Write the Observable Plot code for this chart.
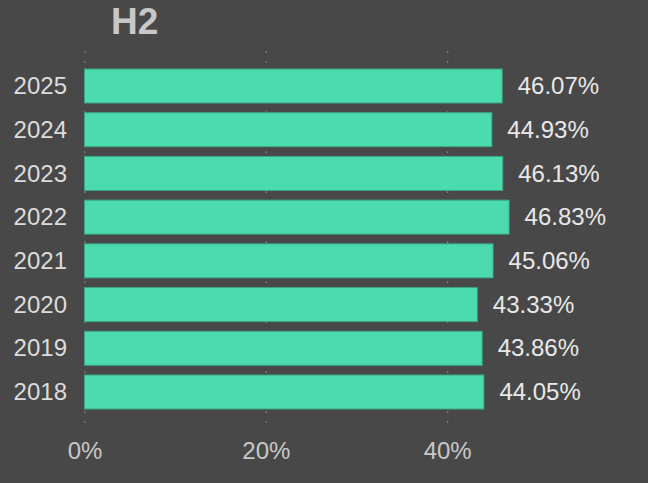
<!DOCTYPE html>
<html>
<head>
<meta charset="utf-8">
<script src="https://cdn.jsdelivr.net/npm/d3@7"></script>
<script src="https://cdn.jsdelivr.net/npm/@observablehq/plot@0.6"></script>
<style>
  html, body { margin: 0; padding: 0; background: #484848; }
  #wrap { width: 648px; height: 483px; background: #484848; position: relative; overflow: hidden; }
  #title { height: 45px; margin: 0; padding-left: 111px; font: bold 37px "Liberation Sans", Arial, sans-serif; color: #c8c8c8; line-height: 43px; box-sizing: border-box; }
  svg { display: block; }
</style>
</head>
<body>
<div id="wrap">
  <div id="title">H2</div>
</div>
<script>
const years = ["2025", "2024", "2023", "2022", "2021", "2020", "2019", "2018"];
const values = [46.07, 44.93, 46.13, 46.83, 45.06, 43.33, 43.86, 44.05];
const xTicks = [0, 20, 40];

const data = years.map((y, i) => ({year: y, value: values[i]}));

const chart = Plot.plot({
  width: 648,
  height: 438,
  marginTop: 6.5,
  marginBottom: 56.5,
  marginLeft: 84.5,
  marginRight: 19.5,
  style: {background: "#484848", fontFamily: "'Liberation Sans', Arial, sans-serif", fontSize: "24px", overflow: "visible"},
  x: {domain: [0, 60], ticks: xTicks, tickFormat: d => d + "%", label: null},
  y: {domain: years, paddingInner: 0.222, paddingOuter: 0.4, round: false, label: null},
  marks: [
    Plot.gridX(xTicks, {stroke: "#a0a0a0", strokeOpacity: 1, strokeWidth: 1.2, strokeDasharray: "1.2,8.8"}),
    Plot.barX(data, {x: "value", y: "year", fill: "#4cdbaf", stroke: "#3aa585", strokeWidth: 1}),
    Plot.text(data, {x: "value", y: "year", text: d => d.value.toFixed(2) + "%", textAnchor: "start", dx: 15, fill: "#e8e8e8", fontSize: 24}),
    Plot.axisY({tickSize: 0, tickPadding: 18, fill: "#dcdcdc", fontSize: 24, label: null}),
    Plot.axisX({ticks: xTicks, tickFormat: d => d + "%", tickSize: 0, tickPadding: 15, fill: "#c8c8c8", fontSize: 24, label: null})
  ]
});
document.getElementById("wrap").appendChild(chart);
</script>
</body>
</html>
